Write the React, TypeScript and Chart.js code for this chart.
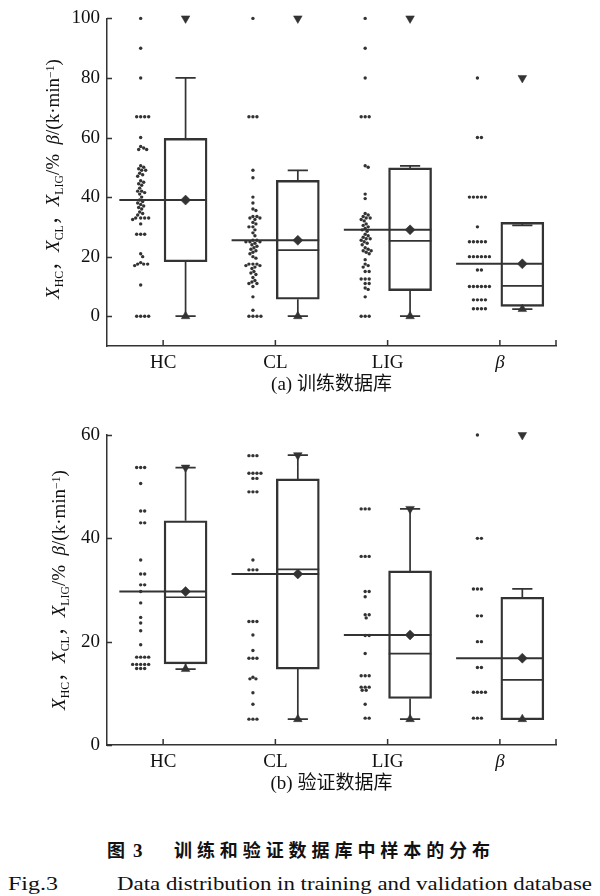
import React, { useEffect, useRef } from 'react';
import { Chart, registerables } from 'chart.js';

Chart.register(...registerables);

// ---------- data ----------
const categories = ['HC', 'CL', 'LIG', 'β'];
const categoryPositions = [1, 2, 3, 4];

// (a) training database — sample values
const trainHC = [100, 90, 80, 67, 67, 67, 67, 60, 57, 56.5, 56, 56, 50.5, 50, 49.5, 49, 49, 48, 47.5, 47,
  45.5, 45, 44.5, 44, 43, 42, 42, 41.5, 41, 40, 39, 38.5, 38, 37.5, 37, 36.5, 36, 35, 34.5, 34,
  33, 33, 33, 33, 32.5, 31, 27.5, 27.5, 27.5, 21, 20, 18, 17.5, 17.5, 17.5, 17, 10.5, 0, 0, 0, 0];
const trainCL = [100, 67, 67, 67, 49, 46.5, 40, 38, 36, 35.5, 33.5, 33.5, 33, 33, 32.5, 31.5, 31, 30, 30, 29, 28, 27,
  25.5, 25.5, 25, 25, 25, 24.5, 24, 23.5, 23, 22.5, 22, 21.5, 21, 20, 19.5, 17.5, 17.5, 17.5, 17, 17, 16.5, 16,
  15, 14.5, 14, 13, 12, 11.5, 11, 11, 10, 6.5, 2, 0, 0, 0, 0];
const trainLIG = [100, 90, 80, 67, 67, 67, 50.5, 50, 41, 39.5, 34.5, 34, 33.5, 33, 33, 32.5, 32, 31, 30.5, 30, 29.5, 29, 28.5,
  27.5, 27, 26.5, 26, 26, 25.5, 25, 24.5, 24, 23, 22.5, 22, 22, 21.5, 21, 19, 17.5, 17, 16.5, 15, 15,
  12.5, 12.5, 12.5, 11, 11, 9.5, 9, 6.5, 0, 0, 0];
const trainBeta = [80, 60, 60, 40, 40, 40, 40, 40, 30, 25, 25, 25, 25, 25, 20, 20, 20, 20, 20, 20, 15.5, 15.5,
  10, 10, 10, 10, 10, 10, 5.5, 5.5, 5.5, 5.5, 2.5, 2.5, 2.5, 2.5];

// (a) box statistics
const trainQ1 = [18.3, 5.7, 8.6, 3.3];
const trainMedian = [39, 22.2, 25.3, 10.2];
const trainQ3 = [59.7, 45.6, 49.8, 31.5];
const trainWhiskerLow = [0, 0, 0, 2.4];
const trainWhiskerHigh = [80, 49, 50.5, 30.5];
const trainMean = [39, 25.5, 29, 17.6];
const trainMin = [0, 0, 0, 2.4];
const trainMax = [100, 100, 100, 80];
const trainYTicks = [0, 20, 40, 60, 80, 100];
const trainYMin = -10;
const trainYMax = 100;

// (b) validation database — sample values
const valHC = [53.7, 53.7, 53.7, 50.6, 45.3, 45.3, 43, 43, 35.8, 33.1, 33.1, 31, 31, 29.7, 27.5, 24.7, 23.6, 22.1, 19.4,
  17, 17, 17, 17, 15.6, 15.6, 15.6, 15.6, 15.6, 14.8, 14.8, 14.8];
const valCL = [56, 56, 56, 52.6, 52.6, 52.6, 52.6, 51.6, 51.6, 49, 49, 49, 35.8, 33.9, 33.9, 33.9, 23.9, 23.9, 23.9,
  21.3, 18.3, 16.8, 16.8, 16.8, 13.1, 12.8, 12.8, 10.1, 7.9, 5, 5, 5];
const valLIG = [45.7, 45.7, 45.7, 36.5, 36.5, 36.5, 29.7, 29.7, 28.7, 25.2, 25.2, 24.6, 21.2, 21.2, 17.7,
  13.4, 13.4, 13.4, 11.2, 11.2, 11.2, 10.6, 10.6, 7.9, 5.2, 5.2];
const valBeta = [60, 40, 40, 30.2, 30.2, 30.2, 25, 25, 20, 20, 15, 15, 10.2, 10.2, 10.2, 10.2, 5.2, 5.2, 5.2];

// (b) box statistics
const valQ1 = [15.7, 14.7, 9, 4.9];
const valMedian = [28.6, 34, 17.7, 12.6];
const valQ3 = [43.4, 51.5, 33.7, 28.6];
const valWhiskerLow = [14.7, 5, 5, 5];
const valWhiskerHigh = [53.7, 56.1, 45.7, 30.2];
const valMean = [29.7, 33.1, 21.3, 16.8];
const valMin = [14.7, 5, 5, 5];
const valMax = [53.7, 56.1, 45.7, 60];
const valYTicks = [0, 20, 40, 60];
const valYMin = 0;
const valYMax = 60;

// ---------- style / layout ----------
const LINE = '#333333';
const DOT = '#333333';
const TXT = '#111111';
const SERIF = "'Liberation Serif', 'Times New Roman', serif";
const SERIF_CJK = "'Liberation Serif', 'Noto Sans CJK SC', serif";
const CANVAS_W = 600;
const CANVAS_H = 400;
const AREA_LEFT = 107;
const AREA_RIGHT_PAD = 44;
const X_AXIS_H = 50;
const DOT_SHIFT = -0.2;
const BOX_SHIFT = 0.2;
const BOX_HALF = 0.19;
const CAP_HALF = 0.09;
const MEAN_LEFT = 0.39;

function swarmOffsets(vals: number[], pxPerY: number, minDist: number): number[] {
  const placed: { dx: number; py: number }[] = [];
  return vals.map((v) => {
    const py = v * pxPerY;
    for (let k = 0; k < 300; k++) {
      const cands = k === 0 ? [0] : [k, -k];
      for (const s of cands) {
        const ok = placed.every((p) => (p.dx - s) ** 2 + (p.py - py) ** 2 >= minDist * minDist);
        if (ok) {
          placed.push({ dx: s, py });
          return s;
        }
      }
    }
    return 0;
  });
}

const inwardTicks = {
  id: 'inwardTicks',
  afterDraw(chart: any) {
    const { ctx, chartArea } = chart;
    const x = chart.scales.x;
    const y = chart.scales.y;
    ctx.save();
    ctx.strokeStyle = LINE;
    ctx.lineWidth = 1.5;
    ctx.beginPath();
    y.ticks.forEach((t: any) => {
      const py = Math.round(y.getPixelForValue(t.value)) + 0.5;
      ctx.moveTo(chartArea.left, py);
      ctx.lineTo(chartArea.left + 5, py);
    });
    [...x.ticks.map((t: any) => t.value), x.max].forEach((v: number) => {
      const px = x.getPixelForValue(v);
      ctx.moveTo(px, chartArea.bottom);
      ctx.lineTo(px, chartArea.bottom - 6);
    });
    ctx.stroke();
    ctx.restore();
  },
};

interface Panel {
  series: number[][];
  q1: number[]; median: number[]; q3: number[];
  whLow: number[]; whHigh: number[]; mean: number[]; min: number[]; max: number[];
  yMin: number; yMax: number; yTicks: number[];
  subtitle: string; topPad: number; bottomPad: number;
}

function buildConfig(p: Panel): any {
  const plotW = CANVAS_W - AREA_LEFT - AREA_RIGHT_PAD;
  const plotH = CANVAS_H - p.topPad - p.bottomPad - X_AXIS_H;
  const pxX = plotW / 4;
  const pxY = plotH / (p.yMax - p.yMin);

  const dots: any[] = [];
  p.series.forEach((vals, i) => {
    const offs = swarmOffsets(vals, pxY, 3.2);
    vals.forEach((v, j) => dots.push({ x: categoryPositions[i] + DOT_SHIFT + offs[j] / pxX, y: v }));
  });

  const whiskers: any[] = [];
  const medians: any[] = [];
  const means: any[] = [];
  const boxes: any[] = [];
  const diamonds: any[] = [];
  const maxPts: any[] = [];
  const minPts: any[] = [];
  categoryPositions.forEach((c, i) => {
    const bx = c + BOX_SHIFT;
    whiskers.push(
      { x: bx, y: p.q3[i] }, { x: bx, y: p.whHigh[i] }, { x: bx, y: null },
      { x: bx - CAP_HALF, y: p.whHigh[i] }, { x: bx + CAP_HALF, y: p.whHigh[i] }, { x: bx, y: null },
      { x: bx, y: p.q1[i] }, { x: bx, y: p.whLow[i] }, { x: bx, y: null },
      { x: bx - CAP_HALF, y: p.whLow[i] }, { x: bx + CAP_HALF, y: p.whLow[i] }, { x: bx, y: null },
    );
    medians.push({ x: bx - BOX_HALF, y: p.median[i] }, { x: bx + BOX_HALF, y: p.median[i] }, { x: bx, y: null });
    means.push({ x: c - MEAN_LEFT, y: p.mean[i] }, { x: bx + BOX_HALF, y: p.mean[i] }, { x: bx, y: null });
    boxes.push({ x: bx, y: [p.q1[i], p.q3[i]] });
    diamonds.push({ x: bx, y: p.mean[i] });
    maxPts.push({ x: bx, y: p.max[i] });
    minPts.push({ x: bx, y: p.min[i] });
  });

  const lineDs = (data: any[], w: number) => ({
    type: 'line', data, borderColor: LINE, borderWidth: w, pointRadius: 0, pointHoverRadius: 0,
    spanGaps: false, fill: false, tension: 0, clip: false,
  });
  const markDs = (data: any[], style: string, r: number, rot: number) => ({
    type: 'scatter', data, pointStyle: style, pointRadius: r, pointRotation: rot,
    backgroundColor: LINE, borderColor: LINE, borderWidth: 0.5, clip: false,
  });

  return {
    type: 'scatter',
    data: {
      datasets: [
        markDs(maxPts, 'triangle', 5, 180),
        markDs(minPts, 'triangle', 5, 0),
        markDs(diamonds, 'rectRot', 5, 0),
        lineDs(means, 2),
        lineDs(medians, 1.7),
        lineDs(whiskers, 1.7),
        {
          type: 'bar', data: boxes, backgroundColor: 'rgba(255,255,255,0)', borderColor: LINE,
          borderWidth: 1.7, borderSkipped: false, barThickness: 43,
        },
        {
          type: 'scatter', data: dots, pointRadius: 1.7, backgroundColor: DOT, borderWidth: 0, clip: false,
        },
      ],
    },
    options: {
      responsive: false,
      animation: false,
      events: [],
      layout: { padding: { top: p.topPad, right: AREA_RIGHT_PAD, bottom: p.bottomPad, left: 0 } },
      plugins: { legend: { display: false }, tooltip: { enabled: false } },
      scales: {
        x: {
          type: 'linear', min: 0.5, max: 4.5, offset: false,
          afterBuildTicks: (s: any) => { s.ticks = categoryPositions.map((v) => ({ value: v })); },
          afterFit: (s: any) => { s.height = X_AXIS_H; },
          grid: { display: false, drawTicks: false },
          border: { display: true, color: LINE, width: 1.5 },
          ticks: {
            autoSkip: false, maxRotation: 0, padding: 6, color: TXT,
            font: (ctx: any) => ({ family: SERIF, size: 19, style: categories[ctx.index] === 'β' ? 'italic' : 'normal' }),
            callback: (_v: any, idx: number) => categories[idx],
          },
          title: { display: true, text: p.subtitle, color: TXT, font: { family: SERIF_CJK, size: 19 }, padding: { top: 0, bottom: 0 } },
        },
        y: {
          type: 'linear', min: p.yMin, max: p.yMax,
          afterBuildTicks: (s: any) => { s.ticks = p.yTicks.map((v) => ({ value: v })); },
          afterFit: (s: any) => { s.width = AREA_LEFT; },
          grid: { display: false, drawTicks: false },
          border: { display: true, color: LINE, width: 1.5 },
          ticks: { padding: 7, color: TXT, font: { family: SERIF, size: 19 } },
        },
      },
    },
    plugins: [inwardTicks],
  };
}

const trainPanel: Panel = {
  series: [trainHC, trainCL, trainLIG, trainBeta],
  q1: trainQ1, median: trainMedian, q3: trainQ3, whLow: trainWhiskerLow, whHigh: trainWhiskerHigh,
  mean: trainMean, min: trainMin, max: trainMax,
  yMin: trainYMin, yMax: trainYMax, yTicks: trainYTicks,
  subtitle: '(a) 训练数据库', topPad: 15, bottomPad: 4,
};
const valPanel: Panel = {
  series: [valHC, valCL, valLIG, valBeta],
  q1: valQ1, median: valMedian, q3: valQ3, whLow: valWhiskerLow, whHigh: valWhiskerHigh,
  mean: valMean, min: valMin, max: valMax,
  yMin: valYMin, yMax: valYMax, yTicks: valYTicks,
  subtitle: '(b) 验证数据库', topPad: 35, bottomPad: 5,
};

function YTitle({ cx, cy }: { cx: number; cy: number }) {
  const sub: React.CSSProperties = { fontSize: '0.62em', position: 'relative', top: '0.35em', fontStyle: 'normal' };
  const sup: React.CSSProperties = { fontSize: '0.62em', position: 'relative', top: '-0.45em' };
  return (
    <div
      style={{
        position: 'absolute', left: cx, top: cy, transform: 'translate(-50%, -50%) rotate(-90deg)',
        whiteSpace: 'nowrap', fontFamily: SERIF_CJK, fontSize: 19, color: TXT, lineHeight: 1,
      }}
    >
      <i>X</i><span style={sub}>HC</span>，<i>X</i><span style={sub}>CL</span>，<i>X</i>
      <span style={sub}>LIG</span>/%&nbsp;&nbsp;<i>β</i>/(k·min<span style={sup}>−1</span>)
    </div>
  );
}

export default function App() {
  const ref1 = useRef<HTMLCanvasElement>(null);
  const ref2 = useRef<HTMLCanvasElement>(null);

  useEffect(() => {
    const c1 = new Chart(ref1.current as HTMLCanvasElement, buildConfig(trainPanel));
    const c2 = new Chart(ref2.current as HTMLCanvasElement, buildConfig(valPanel));
    return () => {
      c1.destroy();
      c2.destroy();
    };
  }, []);

  return (
    <div style={{ position: 'absolute', left: 0, top: 0, width: 600, height: 896, background: '#fff', overflow: 'hidden' }}>
      <canvas ref={ref1} width={CANVAS_W} height={CANVAS_H} style={{ position: 'absolute', left: 0, top: 0 }} />
      <canvas ref={ref2} width={CANVAS_W} height={CANVAS_H} style={{ position: 'absolute', left: 0, top: 400 }} />
      <YTitle cx={52} cy={179} />
      <YTitle cx={58} cy={590} />
      <svg width={600} height={96} style={{ position: 'absolute', left: 0, top: 800 }}>
        <text x={107} y={57} fontFamily="'Noto Sans CJK SC', sans-serif" fontWeight="bold" fontSize={18} fill={TXT}>图</text>
        <text x={133} y={57} fontFamily={SERIF} fontWeight="bold" fontSize={19} fill={TXT}>3</text>
        <text x={174} y={57} fontFamily="'Noto Sans CJK SC', sans-serif" fontWeight="bold" fontSize={18} fill={TXT}
          textLength={316} lengthAdjust="spacing">训练和验证数据库中样本的分布</text>
        <text x={8} y={90} fontFamily={SERIF} fontSize={18} fill={TXT} textLength={50} lengthAdjust="spacingAndGlyphs">Fig.3</text>
        <text x={117} y={90} fontFamily={SERIF} fontSize={18} fill={TXT} textLength={475}
          lengthAdjust="spacingAndGlyphs">Data distribution in training and validation database</text>
      </svg>
    </div>
  );
}
